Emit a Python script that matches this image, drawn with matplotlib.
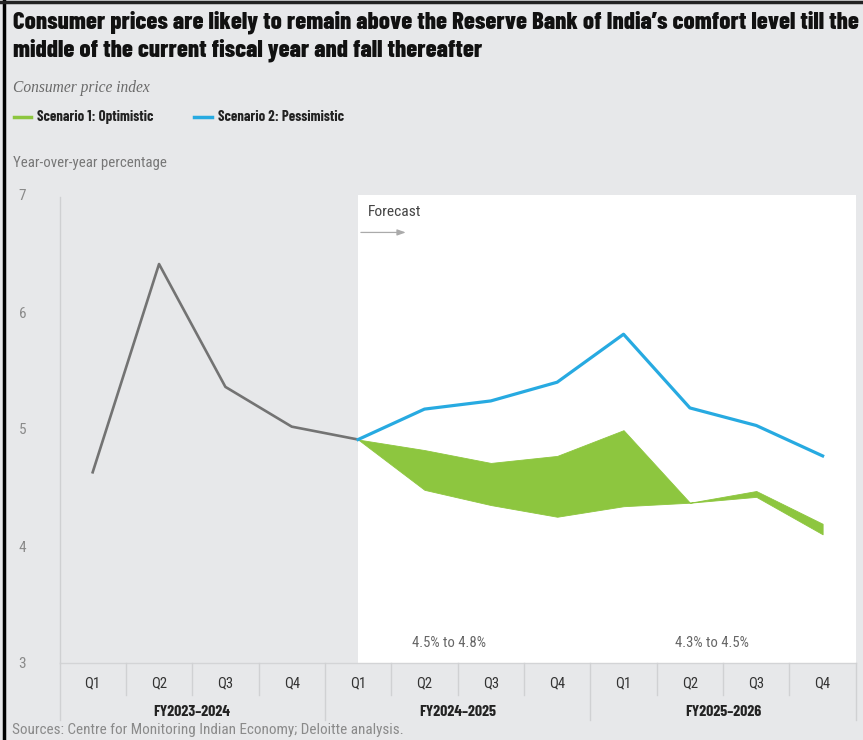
import numpy as np
import matplotlib
matplotlib.use('Agg')
import matplotlib.pyplot as plt
from matplotlib.patches import Rectangle
from matplotlib.lines import Line2D

# data
quarters = ['Q1', 'Q2', 'Q3', 'Q4'] * 3
fiscal_years = ['FY2023\u20132024', 'FY2024\u20132025', 'FY2025\u20132026']
actual = [4.63, 6.41, 5.36, 5.02, 4.91]
pessimistic = [4.91, 5.17, 5.24, 5.40, 5.81, 5.18, 5.03, 4.77]
optimistic_high = [4.91, 4.82, 4.71, 4.77, 4.99, 4.37, 4.47, 4.19]
optimistic_low = [4.91, 4.48, 4.35, 4.25, 4.34, 4.37, 4.42, 4.10]
range_labels = ['4.5% to 4.8%', '4.3% to 4.5%']
range_pos = [5.37, 9.33]

BG = '#e7e8ea'
GREEN = '#8dc63f'
BLUE = '#27aae1'
GRAY = '#737373'
BOLD = ['Barlow Condensed', 'DejaVu Sans']
REG = ['Roboto Condensed', 'DejaVu Sans']

W, H = 863, 740
fig = plt.figure(figsize=(W / 100, H / 100), dpi=100, facecolor=BG)


def px(x, y):
    return x / W, 1 - y / H


def fit(t, width):
    # scale a text's font size so that it spans the given pixel width
    r = fig.canvas.get_renderer()
    w = t.get_window_extent(r).width
    t.set_fontsize(t.get_fontsize() * width / w)
    return t.get_fontsize()


ax = fig.add_axes([59.5 / W, (H - 663) / H, 796.3 / W, 468 / H])
ax.set_facecolor(BG)
ax.set_xlim(-0.5, 11.5)
ax.set_ylim(3, 7)
for s in ax.spines.values():
    s.set_visible(False)

x_act = np.arange(len(actual))
x_fc = np.arange(4, 4 + len(pessimistic))

# forecast area
ax.add_patch(Rectangle((4, 3), 7.5, 4, facecolor='white', edgecolor='none', zorder=0))

ax.fill_between(x_fc, optimistic_low, optimistic_high, color=GREEN, lw=0.6,
                edgecolor=GREEN, zorder=2)
ax.plot(x_act, actual, color=GRAY, lw=1.9, zorder=3)
ax.plot(x_fc, pessimistic, color=BLUE, lw=2.3, zorder=3)

# axis lines
ax.plot([-0.5, -0.5], [3, 6.98], color='#cfd0d2', lw=1, clip_on=False)
ax.plot([-0.5, 11.5], [3, 3], color='#d3d4d6', lw=1, clip_on=False)

ax.set_yticks([3, 4, 5, 6, 7])
ax.set_yticklabels(['3', '4', '5', '6', '7'], family=REG, fontsize=11, color='#8a8a8a')
ax.tick_params(axis='y', length=0, pad=24)
ax.set_xticks([])

# category labels under the axis
tr = ax.get_xaxis_transform()
for i, q in enumerate(quarters):
    ax.text(i, -0.043, q, transform=tr, ha='center', va='center', fontsize=10.5,
            color='#333333', family=REG)
for k in range(13):
    long = k % 4 == 0
    ax.add_line(Line2D([k - 0.5, k - 0.5], [0, -0.122 if long else -0.068],
                       transform=tr, color='#d0d1d3', lw=1, clip_on=False))
fy_texts = []
for j, fy in enumerate(fiscal_years):
    fy_texts.append(ax.text(4 * j + 1.5, -0.105, fy, transform=tr, ha='center', va='center',
                            fontsize=11, fontweight='bold', color='#222222', family=BOLD))

rng_texts = []
for lab, xp in zip(range_labels, range_pos):
    rng_texts.append(ax.text(xp, 3.17, lab, ha='center', va='center', fontsize=10,
                             color='#666666', family=REG))

fc = ax.text(4.14, 6.855, 'Forecast', ha='left', va='center', fontsize=10, color='#444444',
             family=REG)
ax.annotate('', xy=(4.76, 6.68), xytext=(4, 6.68),
            arrowprops=dict(arrowstyle='-|>,head_length=0.5,head_width=0.18',
                            color='#aaaaaa', lw=0.9))

# header texts
t1 = fig.text(*px(13, 28), "Consumer prices are likely to remain above the Reserve Bank of India\u2019s comfort level till the",
              ha='left', va='baseline', fontsize=16, fontweight=800, color='#111111', family=BOLD)
t2 = fig.text(*px(13, 57), 'middle of the current fiscal year and fall thereafter',
              ha='left', va='baseline', fontsize=16, fontweight=800, color='#111111', family=BOLD)
sub = fig.text(*px(13, 88), 'Consumer price index', ha='left', va='center', fontsize=11,
               style='italic', color='#6a6a6a', family=['Liberation Serif', 'DejaVu Serif'])

fig.add_artist(Line2D([14 / W, 31 / W], [1 - 117 / H] * 2, color=GREEN, lw=2.5))
l1 = fig.text(*px(37, 117), 'Scenario 1: Optimistic', ha='left', va='center', fontsize=9,
              fontweight='bold', color='#222222', family=BOLD)
fig.add_artist(Line2D([194 / W, 212 / W], [1 - 117 / H] * 2, color=BLUE, lw=2.5))
l2 = fig.text(*px(218, 117), 'Scenario 2: Pessimistic', ha='left', va='center', fontsize=9,
              fontweight='bold', color='#222222', family=BOLD)

yl = fig.text(*px(13, 163), 'Year-over-year percentage', ha='left', va='center', fontsize=10,
              color='#777777', family=REG)
src = fig.text(*px(12, 730), 'Sources: Centre for Monitoring Indian Economy; Deloitte analysis.',
               ha='left', va='center', fontsize=10, color='#8a8a8a', family=REG)

# match the widths seen in the reference
size = fit(t1, 844)
t2.set_fontsize(size)
fit(sub, 137)
size = fit(l2, 126)
l1.set_fontsize(size)
fit(yl, 152)
fit(src, 388)
fit(fc, 53)
size = fit(rng_texts[0], 74)
rng_texts[1].set_fontsize(size)
size = fit(fy_texts[0], 77)
for t in fy_texts[1:]:
    t.set_fontsize(size)

# frame on left and top
fig.add_artist(Line2D([4 / W, 4 / W], [0, 1], color='black', lw=2.5))
fig.add_artist(Line2D([0, 1], [1 - 1.5 / H] * 2, color='#222222', lw=2.5))

fig.savefig('out.png', dpi=100, facecolor=BG)
